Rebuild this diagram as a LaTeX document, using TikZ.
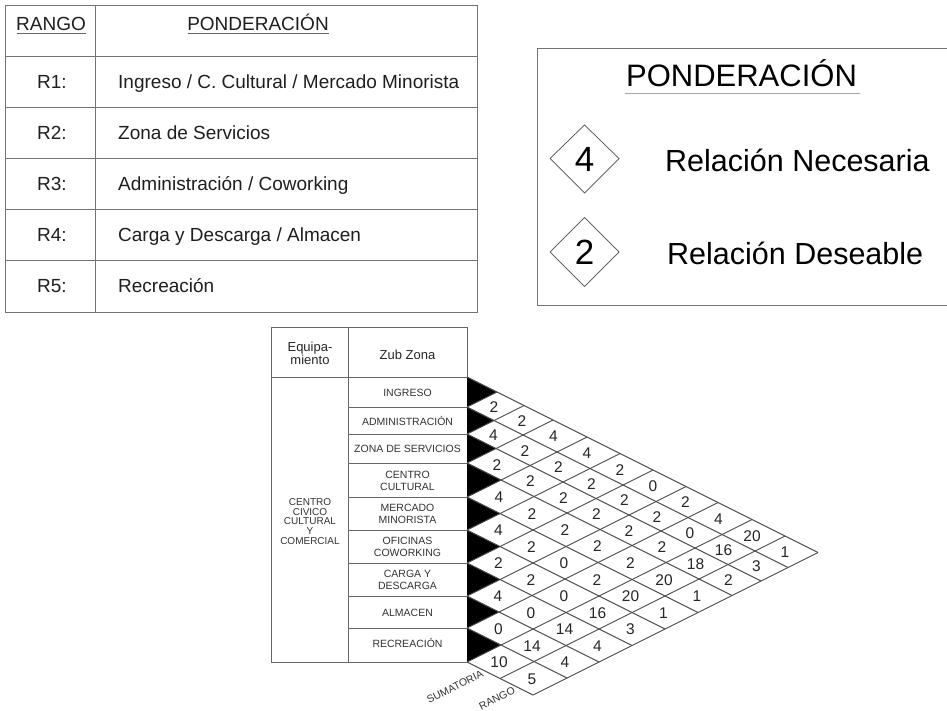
\documentclass[tikz,border=0pt]{standalone}
\usepackage{fontspec}
\setmainfont{Liberation Sans}
\usetikzlibrary{calc}
\begin{document}
\begin{tikzpicture}[x=1pt,y=-1pt,
  tline/.style={draw=black!55, line width=0.9pt},
  ttext/.style={font=\fontsize{19}{22}\selectfont, text=black!88, inner sep=0},
  ltext/.style={font=\fontsize{30.5}{34}\selectfont, text=black, inner sep=0},
  ldiam/.style={draw=black!70, line width=0.7pt},
  bline/.style={draw=black!60, line width=0.8pt},
  gline/.style={draw=black!70, line width=0.9pt},
  zl/.style={font=\fontsize{10.5}{12}\selectfont, align=center, inner sep=0, text=black!80},
  hl/.style={font=\fontsize{13}{12}\selectfont, align=center, inner sep=0, text=black!85},
  num/.style={font=\fontsize{15.5}{17}\selectfont, inner sep=0, text=black!85},
  sl/.style={font=\fontsize{10.5}{12}\selectfont, inner sep=0, text=black!80, rotate=26.6}
]
\useasboundingbox (0,0) rectangle (947,711);
\fill[white] (0,0) rectangle (947,711);

% ---------- top-left table ----------
\draw[tline] (5,5) rectangle (477,312);
\draw[tline] (95,5) -- (95,312);
\foreach \y in {56,107,158,209,260} \draw[tline] (5,\y) -- (477,\y);
\node[ttext, anchor=base] (hR) at (51,31) {RANGO};
\node[ttext, anchor=base] (hP) at (258,31) {PONDERACIÓN};
\draw[black!60, line width=0.8pt] (17,33.8) -- (85.5,33.8);
\draw[black!60, line width=0.8pt] (188,33.8) -- (329,33.8);
\node[ttext, anchor=base] (r1) at (52,88.3) {R1:};
\node[ttext, anchor=base] (r2) at (52,139.3) {R2:};
\node[ttext, anchor=base] (r3) at (52,190.5) {R3:};
\node[ttext, anchor=base] (r4) at (52,241.6) {R4:};
\node[ttext, anchor=base] (r5) at (52,292.6) {R5:};
\node[ttext, anchor=base west] (p1) at (118,88.3) {Ingreso / C. Cultural / Mercado Minorista};
\node[ttext, anchor=base west] (p2) at (118,139.3) {Zona de Servicios};
\node[ttext, anchor=base west] (p3) at (118,190.5) {Administración / Coworking};
\node[ttext, anchor=base west] (p4) at (118,241.6) {Carga y Descarga / Almacen};
\node[ttext, anchor=base west] (p5) at (118,292.6) {Recreación};

% ---------- legend ----------
\draw[draw=black!55, line width=0.9pt] (948,48) -- (537,48) -- (537,305) -- (948,305);
\node[ltext, anchor=base, font=\fontsize{31}{34}\selectfont] (lt) at (741.5,86.7) {PONDERACIÓN};
\draw[black!35, line width=0.8pt] (625,93.3) -- (860,93.3);
\draw[ldiam] (550,158.5) -- (584.5,125) -- (619,158.5) -- (584.5,193) -- cycle;
\draw[ldiam] (550,252) -- (584.5,217.5) -- (619,252) -- (584.5,286.5) -- cycle;
\node[ltext, anchor=base, font=\fontsize{35}{38}\selectfont] (d4) at (584.5,171.5) {4};
\node[ltext, anchor=base, font=\fontsize{35}{38}\selectfont] (d2) at (584.5,265) {2};
\node[ltext, anchor=base west] (ln) at (665,171.5) {Relación Necesaria};
\node[ltext, anchor=base west] (ld) at (667,265) {Relación Deseable};

% ---------- bottom table ----------
\def\BB{{377,407,434,463,497,530,563,596,628,662,695,728}}
\def\xo{467}
\draw[bline] (271,327) rectangle (467,662);
\draw[bline] (348,327) -- (348,662);
\draw[bline] (271,377) -- (467,377);
\foreach \k in {1,...,8}{
  \pgfmathsetmacro\bk{\BB[\k]}
  \draw[bline] (348,\bk) -- (467,\bk);
}
\node[hl] (heq) at (310,353.5) {Equipa-\\miento};
\node[hl] (hzz) at (407.5,354.5) {Zub Zona};
\node[zl, font=\fontsize{10}{9.6}\selectfont] (eqc) at (310,521.5) {CENTRO\\CIVICO\\CULTURAL\\Y\\COMERCIAL};
\node[zl] (z1) at (407.5,392.5) {INGRESO};
\node[zl] (z2) at (407.5,420.5) {ADMINISTRACIÓN};
\node[zl] (z3) at (407.5,448.5) {ZONA DE SERVICIOS};
\node[zl] (z4) at (407.5,481) {CENTRO\\CULTURAL};
\node[zl] (z5) at (407.5,514) {MERCADO\\MINORISTA};
\node[zl] (z6) at (407.5,547) {OFICINAS\\COWORKING};
\node[zl] (z7) at (407.5,579.5) {CARGA Y\\DESCARGA};
\node[zl] (z8) at (407.5,612.5) {ALMACEN};
\node[zl] (z9) at (407.5,643) {RECREACIÓN};

% black triangles
\foreach \i in {1,...,9}{
  \pgfmathtruncatemacro\ia{\i-1}
  \pgfmathsetmacro\ba{\BB[\ia]}
  \pgfmathsetmacro\bc{\BB[\i]}
  \fill[black] (\xo,\ba) -- ({\xo+\bc-\ba},{(\ba+\bc)/2}) -- (\xo,\bc) -- cycle;
}
% down-right lines
\foreach \k in {0,...,9}{
  \pgfmathsetmacro\bk{\BB[\k]}
  \draw[gline] (\xo,\bk) -- ({\xo+728-\bk},{(\bk+728)/2});
}
% up-right lines
\foreach \k in {1,...,9}{
  \pgfmathsetmacro\bk{\BB[\k]}
  \draw[gline] (\xo,\bk) -- ({\xo+\bk-377},{(377+\bk)/2});
}
\foreach \k in {10,11}{
  \pgfmathsetmacro\bk{\BB[\k]}
  \draw[gline] ({\xo+\bk-662},{(662+\bk)/2}) -- ({\xo+\bk-377},{(377+\bk)/2});
}
% values
\foreach \i/\j/\v in {1/2/2,1/3/2,1/4/4,1/5/4,1/6/2,1/7/0,1/8/2,1/9/4,1/10/20,1/11/1,
  2/3/4,2/4/2,2/5/2,2/6/2,2/7/2,2/8/2,2/9/0,2/10/16,2/11/3,
  3/4/2,3/5/2,3/6/2,3/7/2,3/8/2,3/9/2,3/10/18,3/11/2,
  4/5/4,4/6/2,4/7/2,4/8/2,4/9/2,4/10/20,4/11/1,
  5/6/4,5/7/2,5/8/0,5/9/2,5/10/20,5/11/1,
  6/7/2,6/8/2,6/9/0,6/10/16,6/11/3,
  7/8/4,7/9/0,7/10/14,7/11/4,
  8/9/0,8/10/14,8/11/4,
  9/10/10,9/11/5}{
  \pgfmathtruncatemacro\ia{\i-1}
  \pgfmathtruncatemacro\ja{\j-1}
  \pgfmathsetmacro\pa{\BB[\ia]}
  \pgfmathsetmacro\pb{\BB[\i]}
  \pgfmathsetmacro\qa{\BB[\ja]}
  \pgfmathsetmacro\qb{\BB[\j]}
  \pgfmathsetmacro\yi{(\pa+\pb)/2}
  \pgfmathsetmacro\yj{(\qa+\qb)/2}
  \node[num] (v\i-\j) at ({\xo+\yj-\yi-1.5},{(\yi+\yj)/2+0.5}) {\v};
}
\node[sl] (lsum) at (455,687) {SUMATORIA};
\node[sl] (lran) at (497,698.5) {RANGO};
\end{tikzpicture}
\end{document}
